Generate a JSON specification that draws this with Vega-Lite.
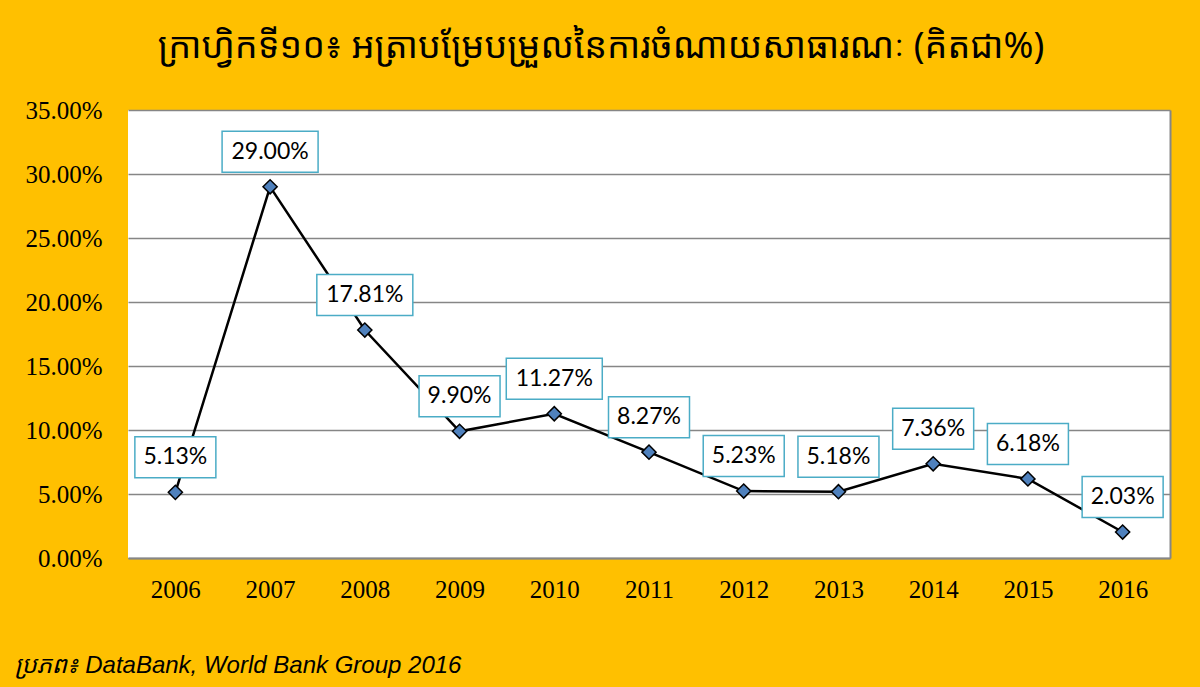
{
  "$schema": "https://vega.github.io/schema/vega-lite/v6.json",
  "width": 1042,
  "height": 448,
  "autosize": {"type": "none"},
  "padding": {"left": 128, "top": 110, "right": 30, "bottom": 129},
  "background": "#FFC000",
  "title": {
    "text": "ក្រាហ្វិកទី១០៖ អត្រាបម្រែបម្រួលនៃការចំណាយសាធារណៈ (គិតជា%)",
    "anchor": "middle",
    "frame": "group",
    "dx": -48,
    "offset": 32,
    "fontSize": 36,
    "fontWeight": "normal",
    "font": "Noto Sans Khmer, Khmer OS, Liberation Sans, sans-serif",
    "color": "#000000"
  },
  "config": {
    "view": {"fill": "#FFFFFF", "stroke": null}
  },
  "data": {
    "values": [
      {"year": "2006", "rate": 0.0513},
      {"year": "2007", "rate": 0.2900},
      {"year": "2008", "rate": 0.1781},
      {"year": "2009", "rate": 0.0990},
      {"year": "2010", "rate": 0.1127},
      {"year": "2011", "rate": 0.0827},
      {"year": "2012", "rate": 0.0523},
      {"year": "2013", "rate": 0.0518},
      {"year": "2014", "rate": 0.0736},
      {"year": "2015", "rate": 0.0618},
      {"year": "2016", "rate": 0.0203}
    ]
  },
  "encoding": {
    "x": {
      "field": "year",
      "type": "ordinal",
      "scale": {"type": "point", "padding": 0.5},
      "axis": {
        "labelAngle": 0,
        "labelFont": "Liberation Serif",
        "labelFontSize": 25,
        "labelColor": "#000000",
        "labelPadding": 19,
        "ticks": false,
        "domainColor": "#868686",
        "domainWidth": 2,
        "title": "ប្រភព៖ DataBank, World Bank Group 2016",
        "titleFont": "Liberation Sans, Noto Sans Khmer, sans-serif",
        "titleFontStyle": "italic",
        "titleFontWeight": "normal",
        "titleFontSize": 24,
        "titleColor": "#000000",
        "titleAnchor": "start",
        "titleAlign": "left",
        "titleBaseline": "alphabetic",
        "titleX": -114,
        "titleY": 114
      }
    }
  },
  "layer": [
    {
      "mark": {"type": "line", "color": "#000000", "strokeWidth": 2.5},
      "encoding": {
        "y": {
          "field": "rate",
          "type": "quantitative",
          "scale": {"domain": [0, 0.35]},
          "axis": {
            "format": ".2%",
            "values": [0, 0.05, 0.1, 0.15, 0.2, 0.25, 0.3, 0.35],
            "labelFont": "Liberation Serif",
            "labelFontSize": 25,
            "labelColor": "#000000",
            "labelPadding": 26,
            "ticks": false,
            "domain": false,
            "grid": true,
            "gridColor": "#868686",
            "gridWidth": 1.5,
            "gridOpacity": 1,
            "title": null
          }
        }
      }
    },
    {
      "mark": {"type": "point", "shape": "diamond", "filled": true, "fill": "#4F81BD", "stroke": "#000000", "strokeWidth": 1.5, "size": 200, "opacity": 1},
      "encoding": {
        "y": {
          "field": "rate",
          "type": "quantitative",
          "scale": {"domain": [0, 0.35]},
          "axis": {
            "orient": "right",
            "labels": false,
            "ticks": false,
            "grid": false,
            "domain": true,
            "domainColor": "#868686",
            "domainWidth": 2,
            "title": null
          }
        }
      }
    },
    {
      "mark": {"type": "point", "filled": true, "fill": "#FFFFFF", "stroke": "#4BACC6", "strokeWidth": 1.5, "size": 10000, "opacity": 1},
      "encoding": {
        "y": {"field": "rate", "type": "quantitative", "scale": {"domain": [0, 0.35]}, "axis": null},
        "shape": {
          "condition": {"test": "datum.rate >= 0.1", "value": "M-0.96,-1.11H0.96V-0.29H-0.96Z"},
          "value": "M-0.81,-1.11H0.81V-0.29H-0.81Z"
        }
      }
    },
    {
      "mark": {"type": "text", "font": "Lato", "fontSize": 23, "color": "#000000", "dy": -35, "baseline": "middle", "align": "center"},
      "encoding": {
        "y": {"field": "rate", "type": "quantitative", "scale": {"domain": [0, 0.35]}, "axis": null},
        "text": {"field": "rate", "type": "quantitative", "format": ".2%"}
      }
    }
  ],
  "resolve": {"scale": {"y": "independent"}}
}
